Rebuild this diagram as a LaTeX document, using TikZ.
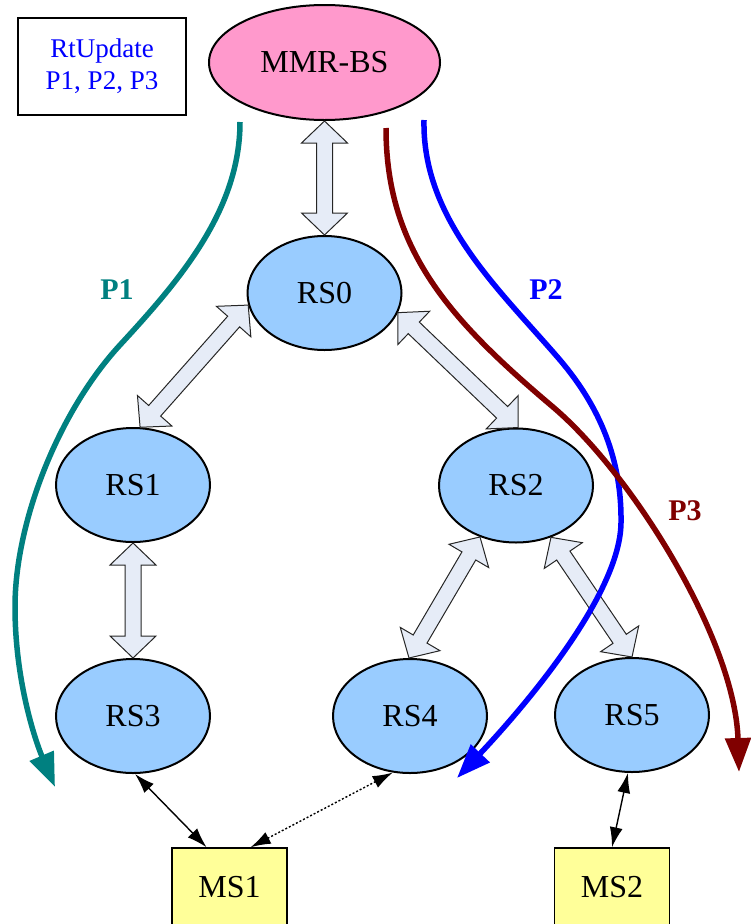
\documentclass[tikz,border=0pt]{standalone}
\usepackage{fontspec}
\setmainfont{Liberation Serif}
\usetikzlibrary{shapes.geometric,arrows.meta,calc}

\definecolor{mmrpink}{HTML}{FF99CC}
\definecolor{rsblue}{HTML}{99CCFF}
\definecolor{msyellow}{HTML}{FFFF99}
\definecolor{linkfill}{HTML}{E6ECF7}
\definecolor{pathone}{HTML}{008080}
\definecolor{pathtwo}{HTML}{0000FF}
\definecolor{paththree}{HTML}{800000}

\tikzset{
  station/.style={ellipse, draw, line width=2pt, fill=rsblue,
    minimum width=154pt, minimum height=114pt, inner sep=0pt,
    font=\fontsize{32}{38}\selectfont},
  basestation/.style={station, fill=mmrpink, minimum width=231pt, minimum height=115pt},
  mobile/.style={rectangle, draw, line width=1.5pt, fill=msyellow,
    minimum width=115pt, minimum height=78pt, inner sep=0pt,
    font=\fontsize{32}{38}\selectfont},
  legendbox/.style={rectangle, draw, line width=2pt, minimum width=168pt,
    minimum height=97pt, align=center, text=pathtwo,
    font=\fontsize{27}{32}\selectfont},
  fatarrow/.style={draw=black!85, line width=1pt, fill=linkfill, line join=miter},
  routepath/.style={line width=5.5pt, -{Triangle[length=34pt,width=25pt]}},
  routelabel/.style={font=\bfseries\fontsize{30}{36}\selectfont},
  radiolink/.style={line width=1.4pt,
    {Latex[length=20pt,width=13pt]}-{Latex[length=20pt,width=13pt]}},
}

% wide double-headed link arrow between two points
\newcommand\fatlink[2]{%
  \filldraw[fatarrow] (#1)
    -- ($(#1)!22pt!(#2)!23pt!90:(#2)$)
    -- ($(#1)!22pt!(#2)!8pt!90:(#2)$)
    -- ($(#2)!22pt!(#1)!8pt!90:(#2)$)
    -- ($(#2)!22pt!(#1)!23pt!90:(#2)$)
    -- (#2)
    -- ($(#2)!22pt!(#1)!23pt!-90:(#2)$)
    -- ($(#2)!22pt!(#1)!8pt!-90:(#2)$)
    -- ($(#1)!22pt!(#2)!8pt!-90:(#2)$)
    -- ($(#1)!22pt!(#2)!23pt!-90:(#2)$)
    -- cycle;}

\begin{document}
\begin{tikzpicture}[x=1pt,y=-1pt]
\useasboundingbox (0,0) rectangle (750,924);

% legend
\node[legendbox] (legend) at (102,66.5) {RtUpdate\\P1, P2, P3};

% base station and relay stations
\node[basestation] (mmr) at (324.5,62.5) {MMR-BS};
\node[station] (rs0) at (324.5,293) {RS0};
\node[station] (rs1) at (133,485) {RS1};
\node[station] (rs2) at (516,485.5) {RS2};
\node[station] (rs3) at (133,716) {RS3};
\node[station] (rs4) at (410,716) {RS4};
\node[station] (rs5) at (632,715) {RS5};

% mobile stations
\node[mobile] (ms1) at (229.5,887) {MS1};
\node[mobile] (ms2) at (612,887) {MS2};

% relay links
\fatlink{mmr.south}{rs0.north}
\fatlink{rs0.189}{rs1.83}
\fatlink{rs0.345}{rs2.88}
\fatlink{rs1.south}{rs3.north}
\fatlink{rs2.235}{rs4.91}
\fatlink{rs2.304}{rs5.90}

% access links
\draw[radiolink] (rs3.272) -- (ms1.120);
\draw[radiolink, dash pattern=on 2pt off 2pt] (rs4.253) -- (ms1.62);
\draw[radiolink] (rs5.266) -- (ms2.north);

% routing update paths
\coordinate (p1start) at (240,122);
\coordinate (p1end) at (55,787);
\coordinate (p2start) at (424,120);
\coordinate (p2end) at (457,778);
\coordinate (p3start) at (386,128);
\coordinate (p3end) at (739,772);

\draw[routepath, pathone] (p1start)
  .. controls (240,210) and (180,280) .. (120,345)
  .. controls (60,410) and (15,520) .. (15,607)
  .. controls (15,680) and (35,740) .. (p1end);
\draw[routepath, pathtwo] (p2start)
  .. controls (422,220) and (500,290) .. (560,360)
  .. controls (600,407) and (622,460) .. (621,523)
  .. controls (620,600) and (510,722) .. (p2end);
\draw[routepath, paththree] (p3start)
  .. controls (386,250) and (450,320) .. (553,407)
  .. controls (633,475) and (735,640) .. (p3end);

\node[routelabel, text=pathone] (lblone) at (117,290) {P1};
\node[routelabel, text=pathtwo] (lbltwo) at (546,290) {P2};
\node[routelabel, text=paththree] (lblthree) at (685,511) {P3};
\end{tikzpicture}
\end{document}
